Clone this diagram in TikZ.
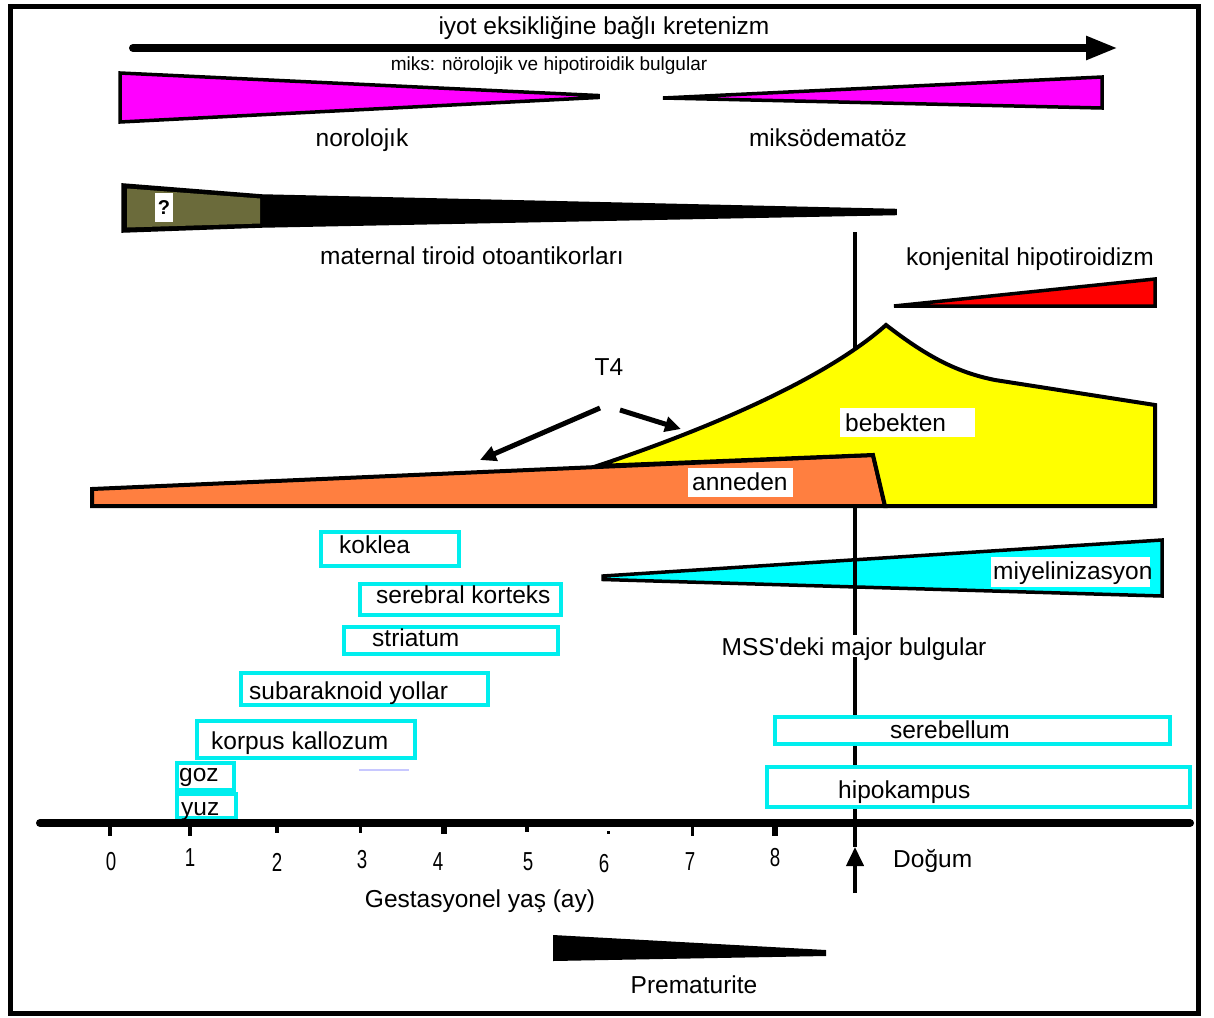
\documentclass[tikz,border=0pt]{standalone}
\usepackage{fontspec}
\usepackage{graphicx}
\setmainfont{Liberation Sans}
\usetikzlibrary{arrows.meta}
\definecolor{wedgemag}{RGB}{255,0,255}
\definecolor{olivebar}{RGB}{107,107,59}
\definecolor{motherorange}{RGB}{255,127,64}
\definecolor{babyyellow}{RGB}{255,255,0}
\definecolor{myelcyan}{RGB}{0,255,255}
\definecolor{boxcyan}{RGB}{0,238,238}
\definecolor{faintblue}{RGB}{200,200,255}
\newcommand\lblfont{\fontsize{24.5}{28}\selectfont}
\tikzset{
  lbl/.style={inner sep=0pt, text height=18pt, text depth=0pt, font=\lblfont},
  cybox/.style={draw=boxcyan, fill=white, line width=4pt, inner sep=0pt},
  whitebox/.style={fill=white, inner sep=0pt},
  wedge/.style={draw=black, line width=3.5pt, line join=miter},
  digit/.style={inner sep=0pt, font=\fontsize{26}{28}\selectfont},
  fatarrow/.style={line width=5pt, -{Triangle[width=15pt,length=16pt]}}
}
\begin{document}
\begin{tikzpicture}[x=1pt,y=-1pt]
\useasboundingbox (0,0) rectangle (1214,1017);
\fill[white] (0,0) rectangle (1214,1017);
\draw[line width=5pt] (10.5,6.5) rectangle (1198,1013.5);

% cretinism arrow and its captions
\coordinate (kstart) at (133,48);
\coordinate (kend) at (1118,48);
\draw[line width=8pt, line cap=round, -{Triangle[width=22pt,length=32pt]}] (kstart) -- (kend);
\node[lbl] (kret) at (604,25) {iyot eksikliğine bağlı kretenizm};
\node[lbl, font=\fontsize{19}{22}\selectfont, text height=14pt] (miks) at (549,63) {miks: nörolojik ve hipotiroidik bulgular};

% neurological / myxoedematous wedges
\filldraw[wedge, fill=wedgemag] (120,73) -- (598,95.5) -- (598,97.5) -- (120,122) -- cycle;
\filldraw[wedge, fill=wedgemag] (663,98) -- (1102,77) -- (1102,108) -- cycle;
\node[lbl] (noro) at (362,137) {norolojık};
\node[lbl] (miksod) at (828,137) {miksödematöz};

% maternal thyroid autoantibodies
\filldraw[wedge, fill=black] (123,185) -- (262,196) -- (895,210.5) -- (895,213.5) -- (262,226) -- (123,231) -- cycle;
\fill[olivebar] (127,188.5) -- (260,198.5) -- (260,223.5) -- (127,227.5) -- cycle;
\node[fill=white, minimum width=18pt, minimum height=29pt, inner sep=0pt] (qbox) at (164,207.5) {};
\node[inner sep=0pt, font=\bfseries\fontsize{20}{22}\selectfont] (qmark) at (qbox.center) {?};
\node[lbl] (mat) at (472,255) {maternal tiroid otoantikorları};

% congenital hypothyroidism
\node[lbl] (konj) at (1030,256) {konjenital hipotiroidizm};
\filldraw[wedge, fill=red] (894,306) -- (1155,279) -- (1155,306) -- cycle;

% myelination wedge
\filldraw[wedge, fill=myelcyan] (603,576) -- (1162,540) -- (1162,596) -- (603,579.5) -- cycle;

% birth line
\coordinate (birthtop) at (855,232);
\coordinate (birthbot) at (855,893);
\coordinate (birthtip) at (855,847);
\draw[line width=3.5pt] (birthtop) -- (birthtip);
\draw[line width=4pt, -{Triangle[width=17pt,length=19pt]}] (birthbot) -- (birthtip);

% T4 from mother and from baby
\filldraw[draw=black, line width=4pt, fill=motherorange, line join=miter]
  (92,489) -- (873,455) -- (885,506) -- (92,506) -- cycle;
\filldraw[draw=black, line width=4pt, fill=babyyellow, line join=miter]
  (597,466) .. controls (720,425) and (830,375) .. (886,325)
  .. controls (925,355) and (955,372) .. (995,380)
  -- (1155,405) -- (1155,506) -- (885,506) -- (873,455) -- cycle;
\node[lbl] (t4) at (609,366) {T4};
\coordinate (t4l0) at (600,408);
\coordinate (t4l1) at (480,460);
\coordinate (t4r0) at (620,410);
\coordinate (t4r1) at (681,429);
\draw[fatarrow] (t4l0) -- (t4l1);
\draw[fatarrow] (t4r0) -- (t4r1);
\node[whitebox, minimum width=135pt, minimum height=29pt] (bebbox) at (907.5,422) {};
\node[lbl, anchor=west] (bebekten) at (845,422) {bebekten};
\node[whitebox, minimum width=105pt, minimum height=29pt] (annbox) at (740.5,482) {};
\node[lbl, anchor=west] (anneden) at (692,481) {anneden};

% myelination caption
\node[whitebox, minimum width=159pt, minimum height=30pt] (miybox) at (1070.5,571.5) {};
\node[lbl, anchor=west] (miyel) at (993,570) {miyelinizasyon};

% major CNS findings
\node[lbl, fill=white, inner xsep=1pt, inner ysep=2pt] (mss) at (854,646) {MSS\textquotesingle deki major bulgular};

% structure boxes
\node[cybox, minimum width=138pt, minimum height=34pt] (kokbox) at (390,549) {};
\node[lbl, anchor=west] (koklea) at (339,544) {koklea};
\node[cybox, minimum width=201pt, minimum height=31pt] (serbox) at (460.5,599.5) {};
\node[lbl, anchor=west] (serebral) at (376,594) {serebral korteks};
\node[cybox, minimum width=214pt, minimum height=27pt] (strbox) at (451,640.5) {};
\node[lbl, anchor=west] (striatum) at (372,637) {striatum};
\node[cybox, minimum width=247pt, minimum height=32pt] (subbox) at (364.5,689) {};
\node[lbl, anchor=west] (subar) at (249,690) {subaraknoid yollar};
\node[cybox, minimum width=218pt, minimum height=37pt] (korbox) at (306,739.5) {};
\node[lbl, anchor=west] (korpus) at (211,740) {korpus kallozum};
\draw[faintblue, line width=2pt] (359,770) -- (409,770);
\node[cybox, minimum width=57pt, minimum height=27pt] (gozbox) at (205.5,776.5) {};
\node[lbl, anchor=west] (goz) at (179,772) {goz};
\node[cybox, minimum width=59pt, minimum height=24pt] (yuzbox) at (206.5,806) {};
\node[lbl, anchor=west] (yuz) at (181,806) {yuz};
\node[cybox, minimum width=395pt, minimum height=27pt] (cerbox) at (972.5,730.5) {};
\node[lbl] (serebellum) at (950,729) {serebellum};
\node[cybox, minimum width=423pt, minimum height=40pt] (hipbox) at (978.5,787) {};
\node[lbl, anchor=west] (hipo) at (838,789) {hipokampus};

% gestational age axis
\coordinate (axl) at (40,823);
\coordinate (axr) at (1190,823);
\draw[line width=8pt, line cap=round] (axl) -- (axr);
\foreach \x/\w/\h in {110/4/10, 190/4/10, 277/4/7, 360/3/7, 444/6/8, 527/4/6, 692/3/10, 775/6/10}
  \fill ({\x-\w/2},826) rectangle ({\x+\w/2},{826+\h});
\fill (606.5,831) rectangle (609.5,834);
\foreach \d/\x/\y in {0/111/862, 1/190/858, 2/277/862, 3/362/860, 4/438/862, 5/528/862, 6/604/864, 7/690/862, 8/775/858}
  \node[digit] (month\d) at (\x,\y) {\scalebox{0.72}[1]{\d}};
\node[lbl, anchor=west] (dogum) at (893,858) {Doğum};
\node[lbl] (gest) at (480,898) {Gestasyonel yaş (ay)};

% prematurity
\fill (553,935) -- (826,950) -- (826,956) -- (553,961) -- cycle;
\node[lbl] (prem) at (694,984) {Prematurite};
\end{tikzpicture}
\end{document}
